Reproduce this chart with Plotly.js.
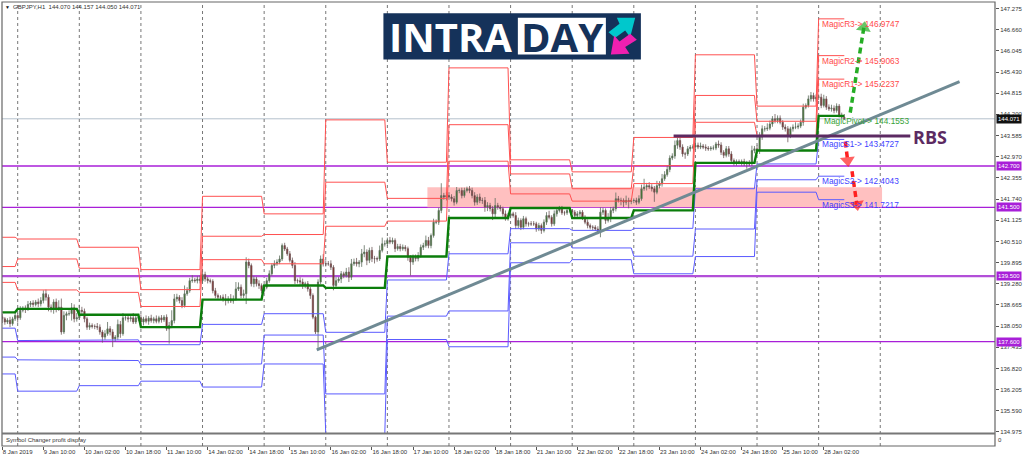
<!DOCTYPE html>
<html><head><meta charset="utf-8">
<script src="https://cdn.plot.ly/plotly-3.0.1.min.js"></script>
<style>html,body{margin:0;padding:0;background:#fff}#c{width:1024px;height:459px}</style>
</head><body><div id="c"></div>
<script>
const closePrice=[
138.26,138.17,138.22,138.12,138.26,138.36,138.29,138.51,138.57,138.55,
138.68,138.72,138.68,138.75,138.70,138.79,138.99,138.89,138.60,138.55,
138.75,138.55,138.60,137.88,138.36,138.41,138.41,138.58,138.26,138.29,
138.51,138.48,138.26,138.02,138.07,138.04,138.04,138.02,137.88,137.73,
137.83,137.97,137.88,137.68,137.73,138.10,137.83,138.29,138.29,138.26,
138.29,138.17,138.29,138.29,138.17,138.26,138.19,138.28,138.21,138.26,
138.19,138.29,138.23,138.31,137.97,138.07,138.21,138.84,138.89,138.79,
138.65,138.99,139.08,139.37,139.39,139.37,139.42,139.37,139.55,139.42,
139.37,139.35,139.08,138.94,138.89,138.89,138.84,138.79,138.84,138.78,
138.84,139.13,139.18,138.94,138.99,139.91,139.81,139.28,139.42,139.28,
139.23,139.08,139.18,139.37,139.57,139.81,139.86,139.91,140.00,140.39,
140.29,140.15,139.96,139.81,139.37,139.37,139.33,139.23,139.28,139.13,
138.94,138.31,137.88,139.33,140.00,139.86,139.86,139.86,139.76,139.23,
139.37,139.42,139.57,139.52,139.62,139.47,139.86,139.91,139.86,139.91,
140.15,140.20,139.96,140.25,140.01,140.01,140.00,140.25,140.44,140.44,
140.54,140.49,140.54,140.30,140.36,140.30,140.34,140.30,140.05,139.91,
140.05,140.01,140.10,140.34,140.39,140.54,140.39,140.68,141.07,141.07,
141.41,141.84,141.80,141.84,141.80,141.75,141.65,141.99,141.99,141.84,
141.99,142.04,141.99,141.84,141.65,141.80,141.70,141.70,141.51,141.55,
141.46,141.31,141.55,141.51,141.46,141.31,141.17,141.26,141.31,141.26,
140.97,141.12,140.92,141.17,141.02,141.02,141.02,141.02,140.87,140.97,
140.83,141.07,141.26,141.21,141.02,141.31,141.41,141.46,141.34,141.34,
141.41,141.41,141.36,141.26,141.31,141.36,141.21,141.07,140.97,140.92,
140.92,140.87,140.78,141.36,141.41,141.12,141.17,141.41,141.46,141.75,
141.70,141.70,141.65,141.70,141.67,141.70,141.70,141.65,141.75,142.04,
142.09,142.13,142.09,142.04,141.94,142.13,142.18,142.33,142.45,142.60,
142.93,142.99,143.30,143.44,143.25,143.05,143.05,143.20,143.25,143.25,
143.30,143.25,143.28,143.25,143.22,143.20,143.22,143.22,143.34,143.31,
143.10,143.01,143.20,143.05,142.86,142.81,142.83,142.81,142.83,142.76,
142.79,142.76,143.15,143.20,143.15,143.54,143.78,143.78,143.80,143.92,
144.07,144.02,144.09,143.97,143.83,143.78,143.59,143.78,143.83,143.83,
143.86,143.97,144.41,144.46,144.65,144.75,144.65,144.70,144.70,144.46,
144.65,144.41,144.36,144.38,144.31,144.44,144.17,144.12,144.071];
const openPrice=[
138.32,138.26,138.17,138.22,138.12,138.26,138.36,138.29,138.51,138.57,
138.55,138.68,138.72,138.68,138.75,138.70,138.79,138.99,138.89,138.60,
138.55,138.75,138.55,138.60,137.88,138.36,138.41,138.41,138.58,138.26,
138.29,138.51,138.48,138.26,138.02,138.07,138.04,138.04,138.02,137.88,
137.73,137.83,137.97,137.88,137.68,137.73,138.10,137.83,138.29,138.29,
138.26,138.29,138.17,138.29,138.29,138.17,138.26,138.19,138.28,138.21,
138.26,138.19,138.29,138.23,138.31,137.97,138.07,138.21,138.84,138.89,
138.79,138.65,138.99,139.08,139.37,139.39,139.37,139.42,139.37,139.55,
139.42,139.37,139.35,139.08,138.94,138.89,138.89,138.84,138.79,138.84,
138.78,138.84,139.13,139.18,138.94,138.99,139.91,139.81,139.28,139.42,
139.28,139.23,139.08,139.18,139.37,139.57,139.81,139.86,139.91,140.00,
140.39,140.29,140.15,139.96,139.81,139.37,139.37,139.33,139.23,139.28,
139.13,138.94,138.31,137.88,139.33,140.00,139.86,139.86,139.86,139.76,
139.23,139.37,139.42,139.57,139.52,139.62,139.47,139.86,139.91,139.86,
139.91,140.15,140.20,139.96,140.25,140.01,140.01,140.00,140.25,140.44,
140.44,140.54,140.49,140.54,140.30,140.36,140.30,140.34,140.30,140.05,
139.91,140.05,140.01,140.10,140.34,140.39,140.54,140.39,140.68,141.07,
141.07,141.41,141.84,141.80,141.84,141.80,141.75,141.65,141.99,141.99,
141.84,141.99,142.04,141.99,141.84,141.65,141.80,141.70,141.70,141.51,
141.55,141.46,141.31,141.55,141.51,141.46,141.31,141.17,141.26,141.31,
141.26,140.97,141.12,140.92,141.17,141.02,141.02,141.02,141.02,140.87,
140.97,140.83,141.07,141.26,141.21,141.02,141.31,141.41,141.46,141.34,
141.34,141.41,141.41,141.36,141.26,141.31,141.36,141.21,141.07,140.97,
140.92,140.92,140.87,140.78,141.36,141.41,141.12,141.17,141.41,141.46,
141.75,141.70,141.70,141.65,141.70,141.67,141.70,141.70,141.65,141.75,
142.04,142.09,142.13,142.09,142.04,141.94,142.13,142.18,142.33,142.45,
142.60,142.93,142.99,143.30,143.44,143.25,143.05,143.05,143.20,143.25,
143.25,143.30,143.25,143.28,143.25,143.22,143.20,143.22,143.22,143.34,
143.31,143.10,143.01,143.20,143.05,142.86,142.81,142.83,142.81,142.83,
142.76,142.79,142.76,143.15,143.20,143.15,143.54,143.78,143.78,143.80,
143.92,144.07,144.02,144.09,143.97,143.83,143.78,143.59,143.78,143.83,
143.83,143.86,143.97,144.41,144.46,144.65,144.75,144.65,144.70,144.70,
144.46,144.65,144.41,144.36,144.38,144.31,144.44,144.17,144.12];
const upperWickCents=[
8,5,6,10,6,8,6,12,6,8,10,6,8,6,10,10,10,12,8,8,
8,10,20,25,12,6,10,14,10,14,16,10,8,6,8,6,6,10,8,6,
10,20,8,8,6,14,10,14,8,10,6,14,8,6,10,6,10,6,10,6,
10,6,8,6,8,10,30,14,10,6,10,24,10,8,14,6,8,10,14,8,
6,6,6,8,6,6,8,14,8,14,10,20,14,8,12,14,10,6,8,6,
10,6,6,8,10,6,10,8,10,6,8,6,8,8,10,6,10,10,6,8,
6,6,4,8,10,14,10,8,10,6,10,6,8,6,12,14,14,10,12,6,
14,20,8,8,10,8,6,14,18,10,8,10,8,6,8,8,8,6,6,6,
8,8,10,8,8,14,10,6,10,8,8,36,8,10,10,8,8,10,6,8,
8,6,8,8,10,8,10,8,10,10,8,8,22,8,6,6,10,8,6,6,
10,8,6,8,6,6,8,8,6,8,6,8,10,14,6,10,10,8,8,6,
8,6,4,6,8,6,6,6,8,6,6,6,8,14,8,6,16,10,6,18,
8,8,6,14,8,6,6,8,10,12,24,8,10,8,8,14,8,14,10,10,
8,8,14,16,10,8,6,8,6,8,30,8,10,6,8,6,6,8,6,10,
8,6,8,8,8,6,6,6,6,8,6,8,14,8,10,14,10,8,14,10,
8,14,8,8,6,8,8,6,8,14,8,8,10,6,10,10,8,8,8,10,
12,8,8,10,8,8,6,8,9];
const lowerWickCents=[
12,8,6,10,6,6,14,6,6,12,6,8,8,6,10,8,8,10,12,10,
14,10,6,8,6,14,6,20,10,8,6,8,10,8,8,6,8,8,8,16,
8,6,10,24,8,8,12,6,8,10,8,6,6,10,6,10,6,10,6,8,
6,6,8,6,6,43,8,8,8,8,8,6,6,6,6,6,8,8,6,8,
8,6,8,8,6,8,8,14,8,6,8,6,6,8,8,30,8,8,10,8,
10,8,6,6,6,6,8,6,6,6,6,6,6,8,10,8,10,10,8,8,
10,6,6,50,6,8,8,6,8,14,6,6,12,8,6,14,8,6,8,10,
14,10,14,8,10,14,8,6,6,8,6,6,6,10,6,8,6,8,10,39,
8,8,8,6,8,6,8,8,6,6,8,8,8,10,8,8,10,6,8,8,
6,6,8,8,10,8,8,10,14,12,8,18,12,8,8,8,6,6,8,6,
10,8,8,6,8,8,6,6,8,6,10,6,8,6,8,6,8,6,6,8,
6,6,6,6,6,8,8,6,8,6,8,6,6,15,8,10,6,10,8,8,
6,14,14,8,20,8,8,8,6,6,6,10,6,8,28,6,8,8,6,6,
8,6,8,10,8,8,14,6,8,6,8,6,6,6,8,6,6,6,6,8,
8,8,6,8,8,10,10,6,10,6,14,6,6,8,10,10,8,8,6,6,
8,8,8,6,8,8,20,8,8,6,6,6,10,6,6,8,8,8,8,8,
6,8,6,8,8,6,6,6,2];

const dayStart=[0,6,30,54,78,102,126,150,174,198,222,246,270,294,318];
const lastBar=328;
const separators=[6,30,54,78,102,126,150,174,198,222,246,270,294,318,342];
const r3Levels=[140.63,140.58,140.34,139.69,141.82,141.31,144.04,142.81,145.55,142.88,142.53,143.53,145.93,144.44,146.9747];
const r2Levels=[139.78,140.00,139.73,139.11,140.66,140.71,142.23,141.76,143.90,142.47,142.04,142.71,144.75,144.00,145.9063];
const r1Levels=[139.32,139.10,139.03,138.62,139.98,139.86,140.95,141.10,142.84,141.89,141.68,142.19,143.97,143.59,145.2237];
const pivotLevels=[138.45,138.55,138.38,138.02,138.82,139.23,139.16,140.07,141.19,141.48,141.19,141.41,142.79,143.15,144.1553];
const s1Levels=[137.99,137.63,137.65,137.51,138.10,138.41,137.87,139.39,140.15,140.88,140.83,140.89,142.04,142.76,143.4727];
const s2Levels=[137.15,137.07,137.05,136.93,136.95,137.79,136.08,138.34,138.49,140.47,140.32,140.08,140.87,142.30,142.4043];
const s3Levels=[136.66,136.16,136.32,136.45,136.28,136.95,134.93,137.66,137.45,139.89,139.98,139.57,140.07,141.94,141.7217];

const priceTicks=[147.275,146.660,146.045,145.430,144.815,144.200,143.585,142.970,142.355,141.740,141.125,140.510,139.895,139.280,138.665,138.050,137.435,136.820,136.205,135.590,134.975];
const timeTicks=[0,16,32,48,64,80,96,112,128,144,160,176,192,208,224,240,256,272,288,304,320];
const timeLabels=["8 Jan 2019","9 Jan 10:00","10 Jan 02:00","10 Jan 18:00","11 Jan 10:00","14 Jan 02:00","14 Jan 18:00","15 Jan 10:00","16 Jan 02:00","16 Jan 18:00","17 Jan 10:00","18 Jan 02:00","18 Jan 18:00","21 Jan 10:00","22 Jan 02:00","22 Jan 18:00","23 Jan 10:00","24 Jan 02:00","24 Jan 18:00","25 Jan 10:00","28 Jan 02:00"];
const purpleLevels=[142.700,141.500,139.500,137.600];
const purpleWidths=[1.3,1.3,2.3,1.3];
const bidPrice=144.071;
const zoneBars=[165.6,342.7], zonePrices=[141.50,142.08];
const trendBars=[122.5,372.9], trendPrices=[137.36,145.15];
const rbsBars=[261.5,353.7], rbsPrice=143.57;
const greenArrowBars=[330.3,335.6], greenArrowPrices=[144.25,146.72];
const redArrow1Bars=[328.4,329.3], redArrow1Prices=[143.41,142.86];
const redArrow2Bars=[331.0,332.9], redArrow2Prices=[142.55,141.58];

const L={l:2,r:29.3,t:1.5,b:13};
const W=1024-L.l-L.r, H=459-L.t-L.b;
const px=x=>(x-L.l)/W, py=y=>(459-L.b-y)/H;
const font='"Liberation Sans",Arial,sans-serif';
const bars=closePrice.map((_,i)=>i);
const highPrice=closePrice.map((c,i)=>Math.max(c,openPrice[i])+upperWickCents[i]/100);
const lowPrice=closePrice.map((c,i)=>Math.min(c,openPrice[i])-lowerWickCents[i]/100);

function stepLine(levels,color,width){
  const xs=[],ys=[];
  levels.forEach((v,s)=>{
    const end=s+1<dayStart.length?dayStart[s+1]-1:lastBar;
    xs.push(dayStart[s],end);ys.push(v,v);
  });
  return {type:'scatter',mode:'lines',x:xs,y:ys,line:{color,width},hoverinfo:'skip',showlegend:false};
}
const arrow=(xs,ys,color,sym,ang)=>({type:'scatter',mode:'lines+markers',x:xs,y:ys,
  line:{color,width:3.5,dash:'6px,4px'},marker:{size:[0,13],color,symbol:sym,angle:ang,line:{width:0}},hoverinfo:'skip',showlegend:false});

const red='#ff5050',blue='#5a5aff';
const traces=[
  stepLine(r3Levels,red,1),stepLine(r2Levels,red,1),stepLine(r1Levels,red,1),
  stepLine(s1Levels,blue,1),stepLine(s2Levels,blue,1),stepLine(s3Levels,blue,1),
  stepLine(pivotLevels,'#0b7d0b',2.4),
  {type:'candlestick',x:bars,open:openPrice,high:highPrice,low:lowPrice,close:closePrice,width:0.9,whiskerwidth:0,
   increasing:{line:{color:'#5f6f5f',width:0.8},fillcolor:'#2f7414'},
   decreasing:{line:{color:'#6f5a5a',width:0.8},fillcolor:'#8a0f0f'},hoverinfo:'skip',showlegend:false},
  arrow(greenArrowBars,greenArrowPrices,'#25ad25','triangle-up',9),
  arrow(redArrow1Bars,redArrow1Prices,'#ff2020','triangle-down',-6),
  arrow(redArrow2Bars,redArrow2Prices,'#ff2020','triangle-down',-9),
];

const shapes=[
  {type:'rect',xref:'x',yref:'y',x0:zoneBars[0],x1:zoneBars[1],y0:zonePrices[0],y1:zonePrices[1],fillcolor:'#ffc0c0',line:{width:0},layer:'below'},
  {type:'line',xref:'paper',yref:'y',x0:0,x1:1,y0:bidPrice,y1:bidPrice,line:{color:'#b4c0cc',width:1},layer:'below'},
  ...separators.map(s=>({type:'line',xref:'x',yref:'paper',x0:s,x1:s,y0:0,y1:1,line:{color:'#777',width:1,dash:'dot'},layer:'below'})),
  ...purpleLevels.map((p,i)=>({type:'line',xref:'paper',yref:'y',x0:0,x1:1,y0:p,y1:p,line:{color:i==2?'#b24fd8':'#a81fd8',width:purpleWidths[i]},layer:'below'})),
  {type:'line',xref:'x',yref:'y',x0:trendBars[0],x1:trendBars[1],y0:trendPrices[0],y1:trendPrices[1],line:{color:'#6f8a94',width:3}},
  {type:'line',xref:'x',yref:'y',x0:rbsBars[0],x1:rbsBars[1],y0:rbsPrice,y1:rbsPrice,line:{color:'#5c2a62',width:3}},
  {type:'rect',xref:'paper',yref:'paper',x0:0,x1:1,y0:0,y1:1,line:{color:'#666',width:1.2}},
  {type:'line',xref:'paper',yref:'paper',x0:0,x1:1,y0:py(433.5),y1:py(433.5),line:{color:'#777',width:2}},
  {type:'rect',xref:'paper',yref:'paper',x0:px(383.3),x1:px(640.7),y0:py(59),y1:py(12.7),fillcolor:'#15325a',line:{width:0}},
  {type:'rect',xref:'paper',yref:'paper',x0:px(517.7),x1:px(605.7),y0:py(54),y1:py(17.3),fillcolor:'#fff',line:{width:0}},
];
function poly(pts,fill){
  const d=pts.map((p,i)=>(i?'L':'M')+px(p[0]).toFixed(5)+' '+py(p[1]).toFixed(5)).join(' ')+' Z';
  shapes.push({type:'path',xref:'paper',yref:'paper',path:d,fillcolor:fill,line:{width:0}});
}
const zp=(a)=>a.map(p=>[340+p[0]/3,p[1]/3]);
poly(zp([[830,52],[885,52],[870,110],[855,90],[825,112],[805,95],[838,70]]),'#00c8cc');
poly(zp([[890,118],[870,100],[838,123],[822,105],[812,162],[868,160],[855,140]]),'#f020b0');

const labelText=(x,y,text,color,size,extra)=>Object.assign({xref:'paper',yref:'paper',x:px(x),y:py(y),text,showarrow:false,xanchor:'left',yanchor:'middle',borderpad:0,font:{family:font,size,color}},extra||{});
const magic=(bar,level,name,color)=>({xref:'x',yref:'y',x:bar,y:level,yshift:-5,text:name+'-> '+level.toFixed(4),showarrow:false,xanchor:'left',yanchor:'middle',borderpad:0,font:{family:font,size:8.3,color}});
const axisTag=(p,bg)=>({xref:'paper',yref:'y',x:1,xshift:1,y:p,text:p.toFixed(3),showarrow:false,xanchor:'left',yanchor:'middle',bgcolor:bg,borderpad:1,font:{family:font,size:6,color:'#fff'}});

const annotations=[
  labelText(12,7,'GBPJPY,H1  144.070 144.157 144.050 144.071','#333',6),
  labelText(3.5,7,'▼','#111',5),
  labelText(5,440,'Symbol Changer profit display','#333',6),
  labelText(997,440,'0','#333',6),
  magic(318.8,r3Levels[14],'MagicR3','#ff4a4a'),
  magic(318.8,r2Levels[14],'MagicR2','#ff4a4a'),
  magic(318.8,r1Levels[14],'MagicR1','#ff4a4a'),
  magic(319.7,pivotLevels[14],'MagicPivot','#38a238'),
  magic(319,s1Levels[14],'MagicS1','#3f3fff'),
  magic(319,s2Levels[14],'MagicS2','#3f3fff'),
  magic(319,s3Levels[14],'MagicS3','#3f3fff'),
  axisTag(bidPrice,'#111'),
  ...purpleLevels.map(p=>axisTag(p,'#a81fd8')),
  labelText(912,137,'RBS','#5c2a62',18,{font:{family:'"Open Sans",sans-serif',size:18,color:'#5c2a62',weight:700}}),
  labelText(388,36,'INTRA','#fff',40,{font:{family:'"Open Sans",sans-serif',size:40,color:'#fff',weight:700}}),
  labelText(520,36,'DAY','#15325a',40,{font:{family:'"Open Sans",sans-serif',size:40,color:'#15325a',weight:700}}),
];

const layout={
  width:1024,height:459,margin:L,paper_bgcolor:'#fff',plot_bgcolor:'#fff',showlegend:false,dragmode:false,
  xaxis:{range:[-0.117,386.7],anchor:'free',position:0,domain:[0,1],tickmode:'array',tickvals:timeTicks,ticktext:timeLabels,
    ticks:'outside',ticklen:3,tickwidth:1,tickcolor:'#555',ticklabelposition:'outside right',showgrid:false,zeroline:false,showline:false,
    tickfont:{family:font,size:6,color:'#333'},rangeslider:{visible:false},tickangle:0,ticklabeloverflow:'allow'},
  yaxis:{range:[134.93,147.464],domain:[12.5/H,1],side:'right',tickmode:'array',tickvals:priceTicks,ticktext:priceTicks.map(v=>v.toFixed(3)),
    ticks:'outside',ticklen:3,tickwidth:1,tickcolor:'#555',showgrid:false,zeroline:false,showline:false,
    tickfont:{family:font,size:6,color:'#333'}},
  shapes,annotations
};
Plotly.newPlot('c',traces,layout,{displayModeBar:false,staticPlot:true});
</script></body></html>
